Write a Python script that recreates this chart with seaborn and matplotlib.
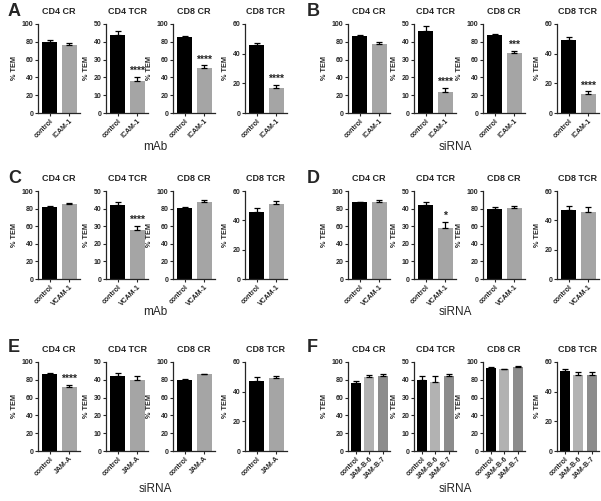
import matplotlib
matplotlib.use("Agg")
import matplotlib.pyplot as plt
import seaborn as sns
import pandas as pd
import numpy as np

sns.set_theme(style="ticks")
plt.rcParams['font.family'] = ['Liberation Sans', 'DejaVu Sans']

subsets = ["CD4 CR", "CD4 TCR", "CD8 CR", "CD8 TCR"]
ymax = [100, 50, 100, 60]
ystep = [20, 10, 20, 20]

A_groups = ["control", "ICAM-1"]
A_means = [[80, 76], [44, 18], [85, 51], [46, 17]]
A_errs = [[1.5, 3], [2, 2.5], [1, 2.5], [1, 2]]
A_stars = ["", "****", "****", "****"]

B_groups = ["control", "ICAM-1"]
B_means = [[86, 78], [46, 12], [88, 67], [49, 13]]
B_errs = [[2, 2], [3, 2], [1, 3], [2.5, 1.5]]
B_stars = ["", "****", "***", "****"]

C_groups = ["control", "VCAM-1"]
C_means = [[82, 85], [42, 28], [81, 88], [46, 51]]
C_errs = [[1, 1], [1.5, 2], [1, 1.5], [2.5, 2]]
C_stars = ["", "****", "", ""]

D_groups = ["control", "VCAM-1"]
D_means = [[87, 88], [42, 29], [80, 81], [47, 46]]
D_errs = [[1, 1.5], [2, 3.5], [1.5, 1.5], [3, 3]]
D_stars = ["", "*", "", ""]

E_groups = ["control", "JAM-A"]
E_means = [[87, 72], [42, 40], [80, 86], [47, 49]]
E_errs = [[1, 2], [2, 2], [1, 1], [3, 1.5]]
E_stars = ["****", "", "", ""]

F_groups = ["control", "JAM-B-6", "JAM-B-7"]
F_means = [[76, 83, 84], [40, 39, 42], [93, 92, 94], [54, 51, 51]]
F_errs = [[3, 2, 2], [2, 3, 1.5], [1, 0.5, 2], [1.5, 2.5, 2]]
F_stars = ["", "", "", ""]

panel_letters = ["A", "B", "C", "D", "E", "F"]
panel_xlabels = ["mAb", "siRNA", "mAb", "siRNA", "siRNA", "siRNA"]
panel_groups = [A_groups, B_groups, C_groups, D_groups, E_groups, F_groups]
panel_means = [A_means, B_means, C_means, D_means, E_means, F_means]
panel_errs = [A_errs, B_errs, C_errs, D_errs, E_errs, F_errs]
panel_stars = [A_stars, B_stars, C_stars, D_stars, E_stars, F_stars]

colors2 = ["#000000", "#a5a5a5"]
colors3 = ["#000000", "#b2b2b2", "#8c8c8c"]

W, H = 601, 501
fig = plt.figure(figsize=(W / 100, H / 100), dpi=100)

col_left = [[38, 106, 173, 245], [348, 414, 483, 557]]
row_tb = [(24, 113), (191, 279), (362, 451)]
axw = 42

def add_px_axes(x0, top, w, bottom):
    return fig.add_axes([x0 / W, 1 - bottom / H, w / W, (bottom - top) / H])

for p in range(6):
    r, c = divmod(p, 2)
    top, bot = row_tb[r]
    groups = panel_groups[p]
    n = len(groups)
    pal = colors2 if n == 2 else colors3
    for k in range(4):
        ax = add_px_axes(col_left[c][k], top, axw, bot)
        df = pd.DataFrame({"group": groups, "value": panel_means[p][k]})
        sns.barplot(data=df, x="group", y="value", hue="group", palette=pal,
                    order=groups, hue_order=groups, legend=False, ax=ax,
                    width=0.75, edgecolor="none", errorbar=None)
        xs = np.arange(n)
        errs = panel_errs[p][k]
        ax.errorbar(xs, panel_means[p][k], yerr=[np.zeros(n), errs], fmt="none",
                    ecolor="black", elinewidth=0.9, capsize=2.2, capthick=0.9)
        star = panel_stars[p][k]
        if star:
            yi = n - 1 if n == 2 else 1
            ax.text(xs[yi], panel_means[p][k][yi] + errs[yi] + ymax[k] * 0.01, star,
                    ha="center", va="bottom", fontsize=7.5, fontweight="bold")
        ax.set_ylim(0, ymax[k])
        ax.set_xlim(-0.6, n - 0.45)
        ax.set_yticks(np.arange(0, ymax[k] + 1, ystep[k]))
        ax.tick_params(axis="y", labelsize=5, length=2.5, width=0.8, pad=1)
        ax.tick_params(axis="x", length=2, width=0.8, pad=1)
        for lab in ax.get_yticklabels():
            lab.set_fontweight("bold")
        ax.set_xticks(xs)
        ax.set_xticklabels(groups, rotation=45, ha="right", rotation_mode="anchor",
                           fontsize=5, fontweight="bold")
        ax.set_xlabel("")
        ax.set_ylabel("% TEM", fontsize=5.3, fontweight="bold", labelpad=2.5)
        ax.set_title(subsets[k], fontsize=6.5, fontweight="bold", pad=7)
        sns.despine(ax=ax)
        for s in ["left", "bottom"]:
            ax.spines[s].set_linewidth(0.9)
    lx = [8, 307][c]
    ly = [12, 178, 348][r]
    fig.text(lx / W, 1 - ly / H, panel_letters[p], fontsize=13, fontweight="bold",
             ha="left", va="center")
    gx = [155, 455][c]
    gy = [147, 312, 489][r]
    fig.text(gx / W, 1 - gy / H, panel_xlabels[p], fontsize=8.5, ha="center", va="center")

fig.savefig("out.png", dpi=100)
